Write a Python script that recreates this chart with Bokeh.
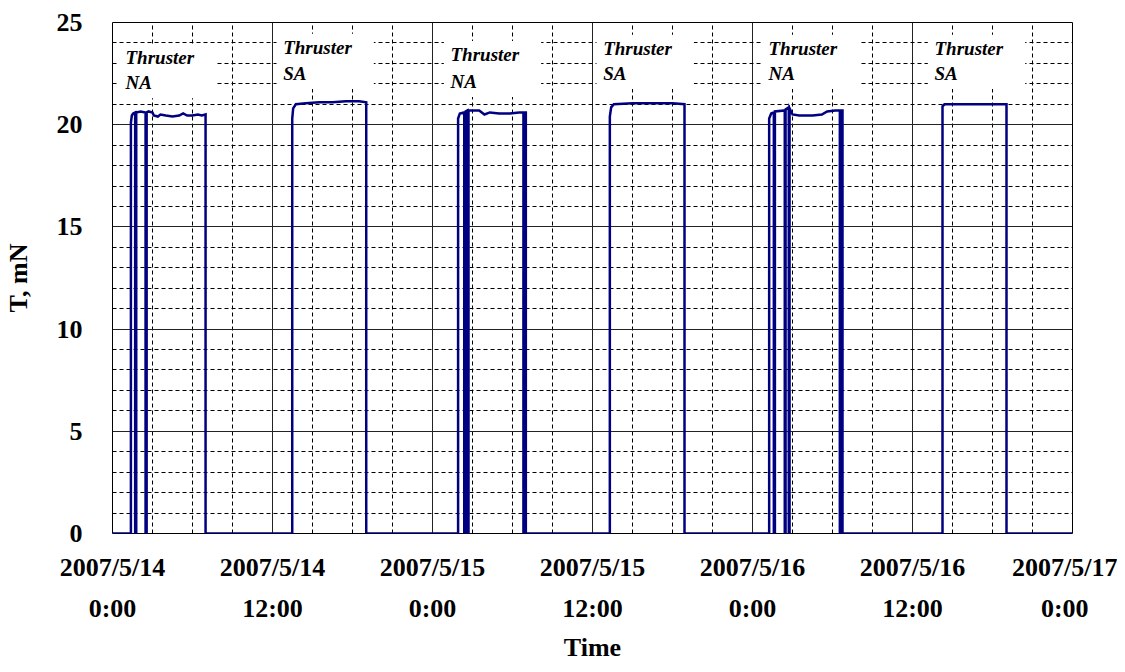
from bokeh.plotting import figure
from bokeh.models import FixedTicker, ColumnDataSource
from bokeh.core.properties import value
from bokeh.embed import file_html
from bokeh.resources import INLINE

# ---- data (time in hours since 2007/5/14 0:00, thrust in mN) ----
time_h = [0.0,
          # Thruster NA, day 1
          1.38, 1.38, 1.45, 1.55, 1.70, 1.70, 1.78, 1.78, 2.10, 2.48, 2.48, 2.56, 2.56,
          2.70, 3.00, 3.10, 3.40, 3.60, 4.00, 4.50, 5.00, 5.30, 5.60, 6.00, 6.40, 6.70, 6.98, 6.98,
          # Thruster SA, day 1
          13.48, 13.48, 13.55, 13.75, 14.50, 15.50, 16.50, 17.50, 18.50, 19.03, 19.03,
          # Thruster NA, day 2
          25.92, 25.92, 26.05, 26.38, 26.38, 26.48, 26.48, 26.62, 26.62, 26.70, 26.70,
          27.50, 27.90, 28.30, 29.00, 29.80, 30.50, 30.82, 30.82, 30.90, 30.90, 31.00, 31.00,
          # Thruster SA, day 2
          37.30, 37.30, 37.40, 37.60, 39.00, 40.00, 41.00, 42.00, 42.90, 42.90,
          # Thruster NA, day 3
          49.25, 49.25, 49.40, 49.60, 49.60, 49.68, 49.68, 50.42, 50.42, 50.48, 50.48, 50.72, 50.72, 50.78, 50.78,
          51.00, 51.50, 52.50, 53.20, 53.60, 54.20, 54.55, 54.55, 54.63, 54.63, 54.75, 54.75,
          # Thruster SA, day 3
          62.25, 62.25, 62.40, 64.00, 66.00, 67.05, 67.05,
          72.0]
thrust_mN = [0.0,
             0.0, 20.1, 20.45, 20.55, 20.6, 0.0, 0.0, 20.6, 20.65, 20.6, 0.0, 0.0, 20.6,
             20.65, 20.6, 20.45, 20.4, 20.5, 20.45, 20.4, 20.45, 20.55, 20.45, 20.45, 20.5, 20.45, 20.5, 0.0,
             0.0, 20.3, 20.8, 21.0, 21.05, 21.1, 21.1, 21.15, 21.15, 21.1, 0.0,
             0.0, 20.3, 20.55, 20.6, 0.0, 0.0, 20.65, 20.7, 0.0, 0.0, 20.7,
             20.7, 20.5, 20.6, 20.55, 20.55, 20.6, 20.6, 0.0, 0.0, 20.6, 20.6, 0.0,
             0.0, 20.4, 20.85, 21.0, 21.05, 21.05, 21.05, 21.05, 21.0, 0.0,
             0.0, 20.3, 20.55, 20.6, 0.0, 0.0, 20.65, 20.7, 0.0, 0.0, 20.75, 20.85, 0.0, 0.0, 20.8,
             20.5, 20.45, 20.45, 20.5, 20.65, 20.7, 20.7, 0.0, 0.0, 20.7, 20.7, 0.0,
             0.0, 20.9, 21.0, 21.0, 21.0, 21.0, 0.0,
             0.0]

label_x = [0.975, 12.8, 25.35, 36.8, 49.2, 61.65]
label_name = ["NA", "SA", "NA", "SA", "NA", "SA"]
label_y1 = [23.3, 23.8, 23.45, 23.75, 23.75, 23.75]
label_y2 = [22.05, 22.5, 22.1, 22.5, 22.5, 22.5]

x_ticks = [0, 12, 24, 36, 48, 60, 72]
x_tick_labels = ["2007/5/14\n0:00", "2007/5/14\n12:00", "2007/5/15\n0:00", "2007/5/15\n12:00",
                 "2007/5/16\n0:00", "2007/5/16\n12:00", "2007/5/17\n0:00"]
x_minor = [3, 6, 9, 15, 18, 21, 27, 30, 33, 39, 42, 45, 51, 54, 57, 63, 66, 69]
y_ticks = [0, 5, 10, 15, 20, 25]
y_minor = [v for v in range(1, 25) if v % 5 != 0]

FONT = "Liberation Serif"

W, H = 1117, 664
p = figure(width=W, height=H, x_range=(0, 72), y_range=(0, 25),
           output_backend="svg", toolbar_location=None,
           min_border_left=105, min_border_top=22,
           min_border_right=W - 1072, min_border_bottom=H - 537)
p.background_fill_color = "white"
p.border_fill_color = "white"
p.outline_line_color = "black"
p.outline_line_width = 1

p.xaxis.ticker = FixedTicker(ticks=x_ticks, minor_ticks=x_minor)
p.yaxis.ticker = FixedTicker(ticks=y_ticks, minor_ticks=y_minor)
p.xaxis.major_label_overrides = {t: l for t, l in zip(x_ticks, x_tick_labels)}

for ax in (p.xaxis[0], p.yaxis[0]):
    ax.axis_line_color = None
    ax.major_tick_out = 0
    ax.major_tick_in = 0
    ax.minor_tick_out = 0
    ax.minor_tick_in = 0
    ax.major_label_text_font = FONT
    ax.major_label_text_font_style = "bold"
    ax.major_label_text_font_size = "26px"
    ax.major_label_text_color = "black"
    ax.axis_label_text_font = FONT
    ax.axis_label_text_font_style = "bold"
    ax.axis_label_text_font_size = "26px"
    ax.axis_label_text_color = "black"

p.xaxis.axis_label = "Time"
p.yaxis.axis_label = "T, mN"
p.xaxis.major_label_standoff = 19
p.xaxis.major_label_text_line_height = 1.42
p.xaxis.axis_label_standoff = 7
p.yaxis.major_label_standoff = 30
p.yaxis.axis_label_standoff = 21

for g in (p.xgrid[0], p.ygrid[0]):
    g.grid_line_color = "#222222"
    g.grid_line_width = 1
    g.minor_grid_line_color = "black"
    g.minor_grid_line_width = 1
    g.minor_grid_line_dash = "4 3"

# white boxes behind the annotations
box_src = ColumnDataSource(dict(
    left=[x - 0.5 for x in label_x],
    right=[x + 6.8 for x in label_x],
    top=[y + 0.65 for y in label_y1],
    bottom=[y - 0.75 for y in label_y2],
))
p.quad(left="left", right="right", top="top", bottom="bottom", source=box_src,
       fill_color="white", line_color=None)

p.line(time_h, thrust_mN, line_color="#000080", line_width=2.5, line_join="miter")

p.text(x=label_x, y=label_y1, text=["Thruster"] * len(label_x),
       text_font=value(FONT), text_font_style="bold italic", text_font_size="19px",
       text_baseline="middle", text_align="left", text_color="black")
p.text(x=label_x, y=label_y2, text=label_name,
       text_font=value(FONT), text_font_style="bold italic", text_font_size="19px",
       text_baseline="middle", text_align="left", text_color="black")

open("out.html", "w").write(file_html(p, INLINE))
